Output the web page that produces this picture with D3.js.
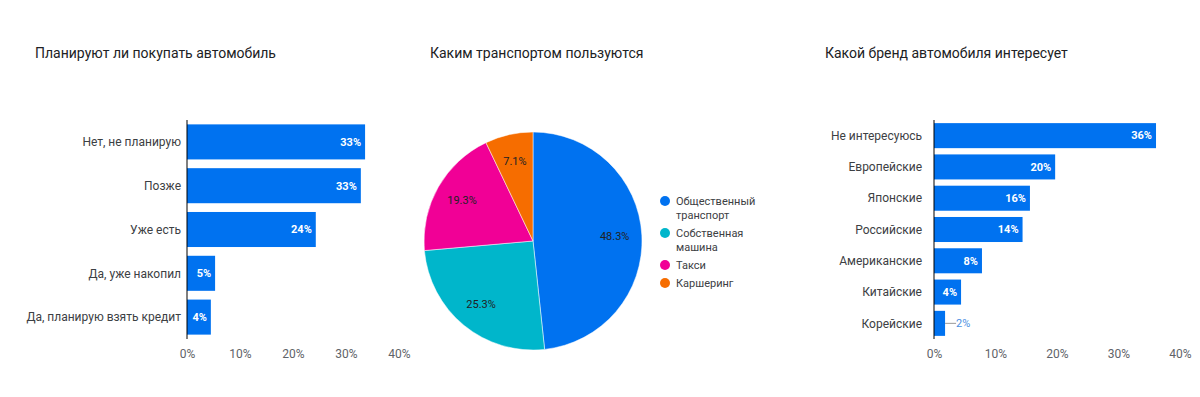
<!DOCTYPE html>
<html>
<head>
<meta charset="utf-8">
<script src="https://cdn.jsdelivr.net/npm/d3@7"></script>
<style>
  body { margin: 0; background: #fff; }
  svg { font-family: Roboto, sans-serif; }
</style>
</head>
<body>
<svg id="chart" width="1200" height="397"></svg>
<script>
// data
const buyCats = ['Нет, не планирую', 'Позже', 'Уже есть', 'Да, уже накопил', 'Да, планирую взять кредит'];
const buyVals = [33.6, 32.8, 24.3, 5.3, 4.5];
const buyLabels = ['33%', '33%', '24%', '5%', '4%'];

const transCats = ['Общественный транспорт', 'Собственная машина', 'Такси', 'Каршеринг'];
const transLegend = [['Общественный', 'транспорт'], ['Собственная', 'машина'], ['Такси'], ['Каршеринг']];
const transVals = [48.3, 25.3, 19.3, 7.1];

const brandCats = ['Не интересуюсь', 'Европейские', 'Японские', 'Российские', 'Американские', 'Китайские', 'Корейские'];
const brandVals = [36.1, 19.7, 15.6, 14.4, 7.8, 4.4, 1.8];
const brandLabels = ['36%', '20%', '16%', '14%', '8%', '4%', '2%'];

const ticks = [0, 10, 20, 30, 40];
const palette = ['#0072f0', '#00b6cb', '#f10096', '#f66d00'];

const svg = d3.select('#chart');

function title(x, txt) {
  svg.append('text')
    .attr('x', x).attr('y', 58)
    .style('font-size', '14px')
    .style('fill', '#202124')
    .text(txt);
}
title(35, 'Планируют ли покупать автомобиль');
title(430, 'Каким транспортом пользуются');
title(825, 'Какой бренд автомобиля интересует');

// horizontal bar chart
function barChart(cats, vals, labels, x0, x1, y0, y1, gap) {
  const g = svg.append('g');
  const x = d3.scaleLinear().domain([0, 40]).range([x0, x1]);
  const y = d3.scaleBand().domain(cats).range([y0, y1]).paddingInner(0.2).paddingOuter(0.1);

  g.selectAll('.bar')
    .data(cats)
    .enter()
    .append('rect')
    .attr('class', 'bar')
    .attr('x', x(0))
    .attr('y', d => y(d))
    .attr('width', (d, i) => x(vals[i]) - x(0))
    .attr('height', y.bandwidth())
    .style('fill', palette[0]);

  g.append('line')
    .attr('x1', x(0)).attr('x2', x(0))
    .attr('y1', y0).attr('y2', y1)
    .style('stroke', '#000').style('stroke-width', 1);

  // category labels
  g.selectAll('.cat')
    .data(cats)
    .enter()
    .append('text')
    .attr('x', x(0) - gap)
    .attr('y', d => y(d) + y.bandwidth() / 2)
    .attr('dy', '0.35em')
    .style('text-anchor', 'end')
    .style('font-size', '12px')
    .style('fill', '#3c4043')
    .text(d => d);

  // value labels
  cats.forEach((c, i) => {
    const w = x(vals[i]) - x(0);
    const cy = y(c) + y.bandwidth() / 2;
    if (w > 20) {
      g.append('text')
        .attr('x', x(vals[i]) - 4)
        .attr('y', cy).attr('dy', '0.35em')
        .style('text-anchor', 'end')
        .style('font-size', '11px')
        .style('font-weight', 'bold')
        .style('fill', '#fff')
        .text(labels[i]);
    } else {
      g.append('line')
        .attr('x1', x(vals[i])).attr('x2', x(vals[i]) + 11)
        .attr('y1', cy).attr('y2', cy)
        .style('stroke', '#999').style('stroke-width', 1);
      g.append('text')
        .attr('x', x(vals[i]) + 11)
        .attr('y', cy).attr('dy', '0.35em')
        .style('font-size', '11px')
        .style('fill', '#4a90e2')
        .text(labels[i]);
    }
  });

  // x axis
  const axis = g.append('g')
    .attr('transform', `translate(0,${y1 + 7})`)
    .call(d3.axisBottom(x).tickValues(ticks).tickFormat(d => d + '%').tickSize(0));
  axis.select('.domain').remove();
  axis.selectAll('text')
    .style('font-family', 'Roboto, sans-serif')
    .style('font-size', '12px')
    .style('fill', '#5f6368');
}

barChart(buyCats, buyVals, buyLabels, 187, 399, 120, 339, 6);
barChart(brandCats, brandVals, brandLabels, 934, 1180, 120, 339, 12);

// pie chart
const cx = 533, cy = 241, r = 109;
const pie = d3.pie().sort(null).value(d => d)(transVals);
const arc = d3.arc().innerRadius(0).outerRadius(r);
const labelArc = d3.arc().innerRadius(r * 0.75).outerRadius(r * 0.75);
const pg = svg.append('g').attr('transform', `translate(${cx},${cy})`);

pg.selectAll('path')
  .data(pie)
  .enter()
  .append('path')
  .attr('d', arc)
  .style('fill', (d, i) => palette[i])
  .style('stroke', '#fff')
  .style('stroke-width', 0.5);

pg.selectAll('.pl')
  .data(pie)
  .enter()
  .append('text')
  .attr('transform', d => `translate(${labelArc.centroid(d)})`)
  .attr('dy', '0.35em')
  .style('text-anchor', 'middle')
  .style('font-size', '11px')
  .style('fill', '#202124')
  .text(d => d.value.toFixed(1) + '%');

// legend
const leg = svg.append('g');
let ly = 201;
transLegend.forEach((lines, i) => {
  leg.append('circle')
    .attr('cx', 665).attr('cy', ly)
    .attr('r', 5)
    .style('fill', palette[i]);
  lines.forEach((t, j) => {
    leg.append('text')
      .attr('x', 676).attr('y', ly + j * 14)
      .attr('dy', '0.35em')
      .style('font-size', '11px')
      .style('fill', '#3c4043')
      .text(t);
  });
  ly += lines.length * 14 + 4;
});
</script>
</body>
</html>
